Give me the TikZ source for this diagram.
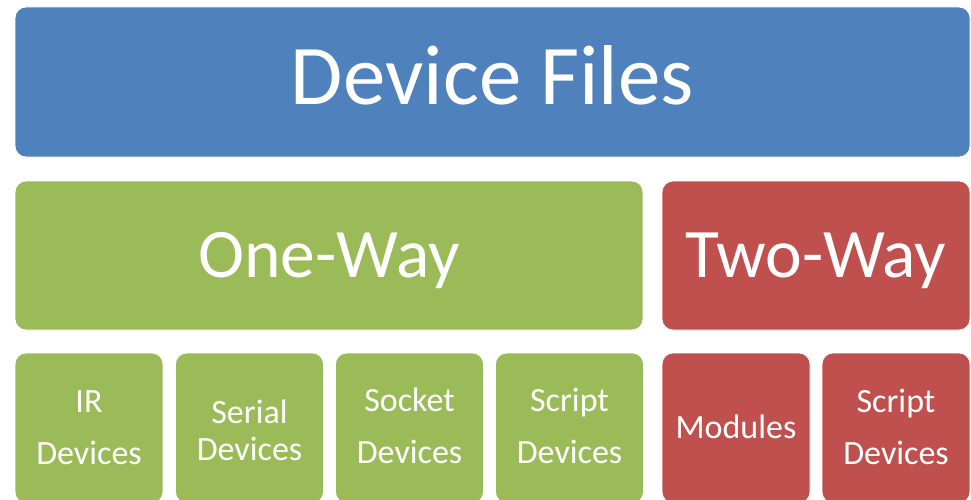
\documentclass[tikz,border=0pt]{standalone}
\usepackage{fontspec}
\setmainfont{Carlito}
\definecolor{cblue}{HTML}{4F81BD}
\definecolor{cgreen}{HTML}{9BBB59}
\definecolor{cred}{HTML}{C0504D}
\begin{document}
\begin{tikzpicture}[x=1pt,y=-1pt,
  tile/.style={draw=white, line width=0.8pt, rounded corners=11pt, inner sep=0pt},
  big/.style={text=white, font=\fontsize{85}{92}\selectfont, anchor=base, inner sep=0pt},
  mid/.style={text=white, font=\fontsize{69.5}{76}\selectfont, anchor=base, inner sep=0pt},
  small/.style={text=white, font=\fontsize{34}{51.5}\selectfont, anchor=base, inner sep=0pt, align=center},
  smalltight/.style={small, font=\fontsize{34}{37}\selectfont}]
\useasboundingbox (0,0) rectangle (971,500);
\begin{scope}
\clip (0,0) rectangle (971,500);
\node[tile, fill=cblue, minimum width=955pt, minimum height=150pt] (files) at (492.5,82) {};
\node[tile, fill=cgreen, minimum width=628pt, minimum height=149pt] (oneway) at (329,255.5) {};
\node[tile, fill=cred, minimum width=308pt, minimum height=149pt] (twoway) at (816,255.5) {};
\node[tile, fill=cgreen, minimum width=148pt, minimum height=150pt] (ir) at (89,428) {};
\node[tile, fill=cgreen, minimum width=148pt, minimum height=150pt] (serial) at (249.5,428) {};
\node[tile, fill=cgreen, minimum width=148pt, minimum height=150pt] (socket) at (409.5,428) {};
\node[tile, fill=cgreen, minimum width=148pt, minimum height=150pt] (scriptg) at (569.5,428) {};
\node[tile, fill=cred, minimum width=148pt, minimum height=150pt] (modules) at (736,428) {};
\node[tile, fill=cred, minimum width=148pt, minimum height=150pt] (scriptr) at (896,428) {};
\end{scope}
\node[big] (tfiles) at (492.5,105) {Device Files};
\node[mid] (toneway) at (329,277) {One-Way};
\node[mid] (ttwoway) at (816,277) {Two-Way};
\node[small] (tir) at (89,464) {IR\\Devices};
\node[smalltight] (tserial) at (249.5,460) {Serial\\Devices};
\node[small] (tsocket) at (409.5,463) {Socket\\Devices};
\node[small] (tscriptg) at (569.5,463) {Script\\Devices};
\node[small] (tmodules) at (736,438) {Modules};
\node[small] (tscriptr) at (896,464) {Script\\Devices};
\end{tikzpicture}
\end{document}
